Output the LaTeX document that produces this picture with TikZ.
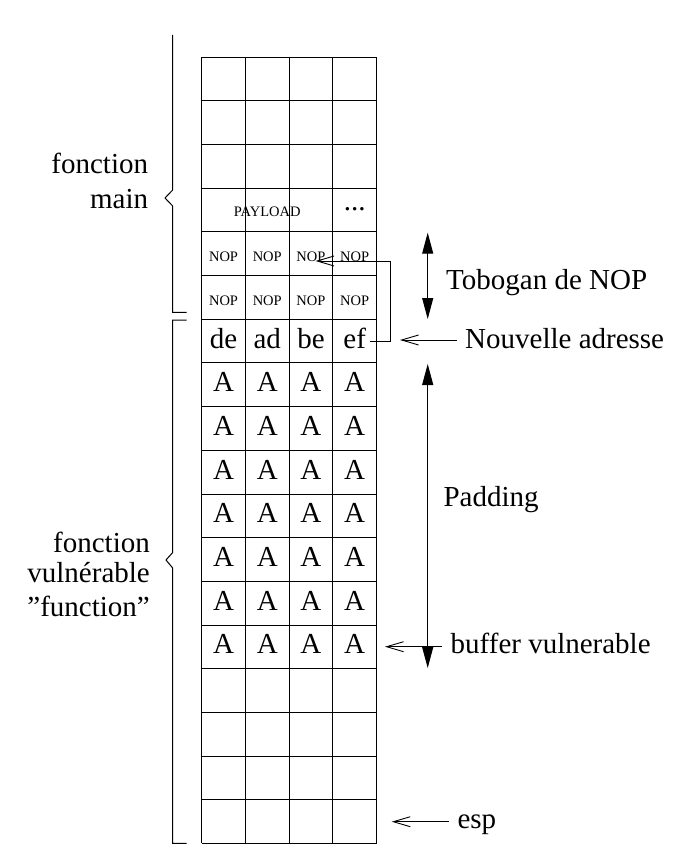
\documentclass[tikz,border=0pt]{standalone}
\usepackage{fontspec}
\setmainfont{Liberation Serif}
\usetikzlibrary{arrows.meta}
\begin{document}
\begin{tikzpicture}[x=1pt,y=-1pt,
  gridline/.style={line width=1pt},
  big/.style={font=\fontsize{29}{34}\selectfont, inner sep=0pt},
  small/.style={font=\fontsize{14.5}{17}\selectfont, inner sep=0pt},
  openarrow/.style={line width=0.9pt, -{Straight Barb[length=17pt,width=10pt]}},
  dblarrow/.style={line width=1pt, {Triangle[length=21pt,width=11pt]}-{Triangle[length=21pt,width=11pt]}},
  bracestyle/.style={line width=1pt}]
\useasboundingbox (0,0) rectangle (696,866);
\def\gx{201.7}\def\cw{43.7}\def\gy{57.3}\def\rh{43.67}
% grid
\foreach \i in {0,...,4}
  \draw[gridline] ({\gx+\i*\cw},\gy) -- ({\gx+\i*\cw},{\gy+18*\rh});
\foreach \j in {0,...,18}
  \draw[gridline] (\gx,{\gy+\j*\rh}) -- ({\gx+4*\cw},{\gy+\j*\rh});
% cell texts
\node[small, anchor=base] (payload) at ({\gx+1.5*\cw},{\gy+3.5*\rh+6.8}) {PAYLOAD};
\node[big, anchor=base] (dots) at ({\gx+3.5*\cw},{\gy+3*\rh+22}) {...};
\foreach \c in {0,...,3} {
  \node[small, anchor=base] (nopa\c) at ({\gx+(\c+0.5)*\cw},{\gy+4.5*\rh+7.8}) {NOP};
  \node[small, anchor=base] (nopb\c) at ({\gx+(\c+0.5)*\cw},{\gy+5.5*\rh+7.8}) {NOP};
}
\foreach \t [count=\c from 0] in {de,ad,be,ef}
  \node[big, anchor=base] (addr\c) at ({\gx+(\c+0.5)*\cw},{\gy+6.5*\rh+7}) {\t};
\foreach \r in {7,...,13}
  \foreach \c in {0,...,3}
    \node[big, anchor=base] (a\r-\c) at ({\gx+(\c+0.5)*\cw},{\gy+(\r+0.5)*\rh+7}) {A};
% braces
\draw[bracestyle] (172.7,35) -- (172.7,190) -- (165,198) -- (172.7,206) -- (172.7,312.3) -- (186.7,312.3);
\draw[bracestyle] (186.7,320) -- (172.7,320) -- (172.7,552.5) -- (166,560) -- (172.7,568) -- (172.7,843.3) -- (186.7,843.3);
% left labels
\node[big, anchor=base east] (fm1) at (148.3,173.3) {fonction};
\node[big, anchor=base east] (fm2) at (148.3,208.3) {main};
\node[big, anchor=base east] (fv1) at (150,552) {fonction};
\node[big, anchor=base east] (fv2) at (150,582) {vulnérable};
\node[big, anchor=base east] (fv3) at (150,616.5) {”function”};
% right labels
\node[big, anchor=base west] (tob) at (446,289.3) {Tobogan de NOP};
\node[big, anchor=base west] (nouv) at (465,348) {Nouvelle adresse};
\node[big, anchor=base west] (pad) at (443.3,506.7) {Padding};
\node[big, anchor=base west] (buf) at (450.5,653.3) {buffer vulnerable};
\node[big, anchor=base west] (esp) at (457.3,828.3) {esp};
% coordinates for connectors
\coordinate (efout) at (370,341.7);
\coordinate (jog1) at (390.7,341.7);
\coordinate (jog2) at (390.7,261);
\coordinate (noptip) at (315.5,261);
\coordinate (tobtop) at (427.7,232.7);
\coordinate (tobbot) at (427.7,319);
\coordinate (padtop) at (427.7,364);
\coordinate (padbot) at (427.7,668);
\coordinate (nouvs) at (456.7,340);
\coordinate (nouve) at (400,340);
\coordinate (bufs) at (441.7,646.7);
\coordinate (bufe) at (385,646.7);
\coordinate (esps) at (449,821.7);
\coordinate (espe) at (391.7,821.7);
% connectors
\draw[openarrow] (efout) -- (jog1) -- (jog2) -- (noptip);
\draw[dblarrow] (tobtop) -- (tobbot);
\draw[dblarrow] (padtop) -- (padbot);
\draw[openarrow] (nouvs) -- (nouve);
\draw[openarrow] (bufs) -- (bufe);
\draw[openarrow] (esps) -- (espe);
\end{tikzpicture}
\end{document}
